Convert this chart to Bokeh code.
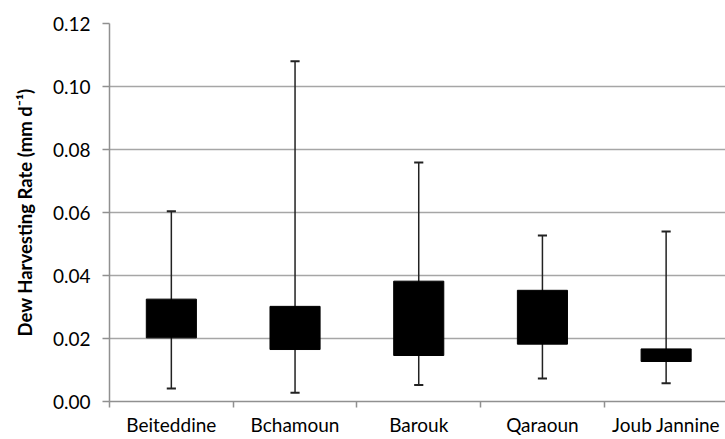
from bokeh.plotting import figure
from bokeh.models import Range1d, FixedTicker, ColumnDataSource
from bokeh.embed import file_html
from bokeh.resources import INLINE

sites = ["Beiteddine", "Bchamoun", "Barouk", "Qaraoun", "Joub Jannine"]
minimum = [0.0041, 0.0028, 0.0052, 0.0073, 0.0058]
q1 = [0.0202, 0.0165, 0.0146, 0.0182, 0.0127]
q3 = [0.0325, 0.0302, 0.0382, 0.0353, 0.0167]
maximum = [0.0604, 0.1080, 0.0759, 0.0527, 0.0540]
y_ticks = [0.00, 0.02, 0.04, 0.06, 0.08, 0.10, 0.12]

xc = [i + 0.5 for i in range(len(sites))]
cap_half = 0.037
src = ColumnDataSource(dict(
    x=xc, lo=minimum, q1=q1, q3=q3, hi=maximum,
    xl=[x - cap_half for x in xc], xr=[x + cap_half for x in xc],
))

FONT = "Lato"
p = figure(width=725, height=439, output_backend="svg", toolbar_location=None,
           x_range=Range1d(0, 4.98), y_range=Range1d(0, 0.12),
           min_border_left=109, min_border_right=0, min_border_top=23,
           min_border_bottom=38)
p.outline_line_color = None
p.background_fill_color = "white"
p.border_fill_color = "white"

# whiskers
p.segment(x0="x", y0="lo", x1="x", y1="hi", source=src, line_color="#222222", line_width=1.5)
p.segment(x0="xl", y0="hi", x1="xr", y1="hi", source=src, line_color="#222222", line_width=2)
p.segment(x0="xl", y0="lo", x1="xr", y1="lo", source=src, line_color="#222222", line_width=2)
# boxes
p.vbar(x="x", bottom="q1", top="q3", width=0.405, source=src,
       fill_color="black", line_color="black", line_width=1)

# x axis: names at category centres, tick marks at category boundaries
p.xaxis.ticker = FixedTicker(ticks=xc, minor_ticks=list(range(len(sites) + 1)))
p.xaxis.major_label_overrides = {x: s for x, s in zip(xc, sites)}
p.xaxis.major_tick_line_color = None
p.xaxis.major_tick_out = 0
p.xaxis.major_tick_in = 0
p.xaxis.minor_tick_line_color = "#909090"
p.xaxis.minor_tick_line_width = 1.5
p.xaxis.minor_tick_out = 6
p.xaxis.minor_tick_in = 0
p.xaxis.major_label_standoff = 5
p.xaxis.axis_line_color = "#909090"
p.xaxis.axis_line_width = 1.5
p.xaxis.major_label_text_font = FONT
p.xaxis.major_label_text_font_size = "19px"
p.xaxis.major_label_text_color = "black"

# y axis
p.yaxis.ticker = FixedTicker(ticks=y_ticks)
p.yaxis.major_label_overrides = {t: f"{t:.2f}" for t in y_ticks}
p.yaxis.minor_tick_line_color = None
p.yaxis.major_tick_line_color = "#909090"
p.yaxis.major_tick_line_width = 1.5
p.yaxis.major_tick_out = 7
p.yaxis.major_tick_in = 0
p.yaxis.major_label_standoff = 12
p.yaxis.axis_line_color = "#909090"
p.yaxis.axis_line_width = 1.5
p.yaxis.major_label_text_font = FONT
p.yaxis.major_label_text_font_size = "19px"
p.yaxis.major_label_text_color = "black"
p.yaxis.axis_label = "Dew Harvesting Rate (mm d\u207b\u00b9)"
p.yaxis.axis_label_text_font_style = "bold"
p.yaxis.axis_label_text_font_size = "18.5px"
p.yaxis.axis_label_text_font = FONT
p.yaxis.axis_label_text_color = "black"
p.yaxis.axis_label_standoff = 14

p.xgrid.grid_line_color = None
p.ygrid.ticker = FixedTicker(ticks=y_ticks[1:])
p.ygrid.grid_line_color = "#a6a6a6"
p.ygrid.grid_line_width = 1.5

open("out.html", "w").write(file_html(p, INLINE))
